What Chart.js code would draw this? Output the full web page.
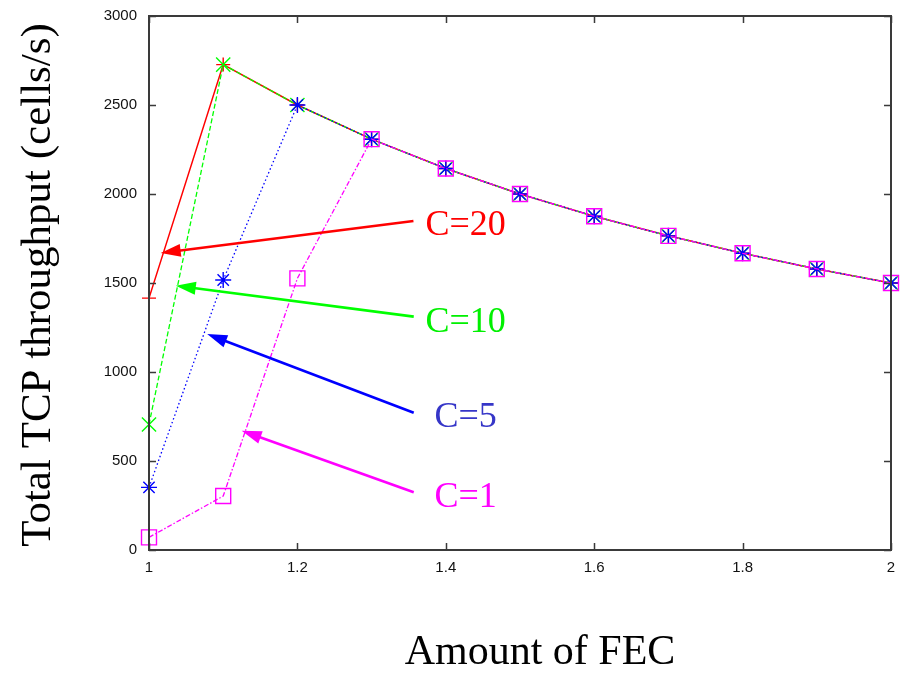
<!DOCTYPE html>
<html><head><meta charset="utf-8">
<script src="https://cdn.jsdelivr.net/npm/chart.js@4.4.1/dist/chart.umd.min.js"></script>
<style>html,body{margin:0;padding:0;background:#fff;} canvas{display:block;}</style>
</head><body>
<canvas id="c" width="905" height="674"></canvas>
<script>
// ---- data ----
const fecAmount = [1.0, 1.1, 1.2, 1.3, 1.4, 1.5, 1.6, 1.7, 1.8, 1.9, 2.0];
const throughputC20 = [1415, 2727, 2500, 2308, 2143, 2000, 1875, 1765, 1667, 1579, 1500];
const throughputC10 = [705, 2727, 2500, 2308, 2143, 2000, 1875, 1765, 1667, 1579, 1500];
const throughputC5  = [352, 1517, 2500, 2308, 2143, 2000, 1875, 1765, 1667, 1579, 1500];
const throughputC1  = [71, 303, 1526, 2308, 2143, 2000, 1875, 1765, 1667, 1579, 1500];
const seriesLabels = ['C=1', 'C=5', 'C=10', 'C=20'];
const xTickValues = [1, 1.2, 1.4, 1.6, 1.8, 2];
const xTickLabels = ['1', '1.2', '1.4', '1.6', '1.8', '2'];
const yTickValues = [0, 500, 1000, 1500, 2000, 2500, 3000];
const yTickLabels = ['0', '500', '1000', '1500', '2000', '2500', '3000'];
const xTitle = 'Amount of FEC';
const yTitle = 'Total TCP throughput (cells/s)';

// ---- annotation arrows (data coordinates) ----
const annotations = [
  {text: 'C=20', color: '#ff0000', textColor: '#ff0000', tip: [1.0158, 1669], tail: [1.3564, 1848], textAt: [1.4266, 1770]},
  {text: 'C=10', color: '#00ff00', textColor: '#00f000', tip: [1.0361, 1485], tail: [1.3568, 1311], textAt: [1.4266, 1226]},
  {text: 'C=5',  color: '#0000ff', textColor: '#3636c8', tip: [1.0784, 1213], tail: [1.3568, 771],  textAt: [1.4266, 693]},
  {text: 'C=1',  color: '#ff00ff', textColor: '#ff00ff', tip: [1.1249, 670],  tail: [1.3568, 324],  textAt: [1.4266, 242]}
];

function pts(ys) { return fecAmount.map((x, i) => ({x: x, y: ys[i]})); }

const frameColor = '#3a3a3a';

const framePlugin = {
  id: 'frameAndNotes',
  afterDraw(chart) {
    const ctx = chart.ctx, a = chart.chartArea;
    const xs = chart.scales.x, ys = chart.scales.y;
    ctx.save();
    ctx.strokeStyle = frameColor;
    ctx.lineWidth = 2;
    ctx.setLineDash([]);
    ctx.strokeRect(a.left, a.top, a.right - a.left, a.bottom - a.top);
    ctx.lineWidth = 1.5;
    ctx.beginPath();
    xs.ticks.forEach(t => {
      const px = Math.round(xs.getPixelForValue(t.value)) + 0.5;
      ctx.moveTo(px, a.bottom); ctx.lineTo(px, a.bottom - 7);
      ctx.moveTo(px, a.top); ctx.lineTo(px, a.top + 7);
    });
    ys.ticks.forEach(t => {
      const py = Math.round(ys.getPixelForValue(t.value)) + 0.5;
      ctx.moveTo(a.left, py); ctx.lineTo(a.left + 7, py);
      ctx.moveTo(a.right, py); ctx.lineTo(a.right - 7, py);
    });
    ctx.stroke();
    annotations.forEach(n => {
      const tx = xs.getPixelForValue(n.tip[0]), ty = ys.getPixelForValue(n.tip[1]);
      const sx = xs.getPixelForValue(n.tail[0]), sy = ys.getPixelForValue(n.tail[1]);
      const ang = Math.atan2(ty - sy, tx - sx);
      const hl = 20, hw = 6.5;
      const bx = tx - Math.cos(ang) * hl, by = ty - Math.sin(ang) * hl;
      ctx.strokeStyle = n.color; ctx.fillStyle = n.color;
      ctx.lineWidth = 2.6;
      ctx.beginPath(); ctx.moveTo(sx, sy); ctx.lineTo(bx + Math.cos(ang) * 2, by + Math.sin(ang) * 2); ctx.stroke();
      ctx.beginPath();
      ctx.moveTo(tx, ty);
      ctx.lineTo(bx + Math.sin(ang) * hw, by - Math.cos(ang) * hw);
      ctx.lineTo(bx - Math.sin(ang) * hw, by + Math.cos(ang) * hw);
      ctx.closePath(); ctx.fill();
      ctx.font = '36px "Liberation Serif", "Times New Roman", serif';
      ctx.fillStyle = n.textColor;
      ctx.textAlign = 'center'; ctx.textBaseline = 'alphabetic';
      ctx.fillText(n.text, xs.getPixelForValue(n.textAt[0]), ys.getPixelForValue(n.textAt[1]));
    });
    ctx.fillStyle = '#000';
    ctx.font = '42px "Liberation Serif", "Times New Roman", serif';
    ctx.textAlign = 'center'; ctx.textBaseline = 'alphabetic';
    ctx.fillText(xTitle, 540, 664);
    ctx.translate(50, 285);
    ctx.rotate(-Math.PI / 2);
    ctx.font = '43px "Liberation Serif", "Times New Roman", serif';
    ctx.fillText(yTitle, 0, 0);
    ctx.restore();
  }
};

new Chart(document.getElementById('c'), {
  type: 'line',
  data: {
    datasets: [
      {label: seriesLabels[0], data: pts(throughputC1), borderColor: '#ff00ff', borderWidth: 1.3, borderDash: [5, 2, 1.5, 2],
       pointStyle: 'rect', pointRadius: 10.6, pointBorderWidth: 1.4, pointBorderColor: '#ff00ff', pointBackgroundColor: 'rgba(0,0,0,0)', clip: false, tension: 0},
      {label: seriesLabels[1], data: pts(throughputC5), borderColor: '#0000ff', borderWidth: 1.3, borderDash: [1.5, 2.5],
       pointStyle: 'star', pointRadius: 8, pointBorderWidth: 1.4, pointBorderColor: '#0000ff', pointBackgroundColor: '#0000ff', clip: false, tension: 0},
      {label: seriesLabels[2], data: pts(throughputC10), borderColor: '#00ff00', borderWidth: 1.3, borderDash: [5, 2.5],
       pointStyle: 'crossRot', pointRadius: 10, pointBorderWidth: 1.4, pointBorderColor: '#00ff00', pointBackgroundColor: '#00ff00', clip: false, tension: 0},
      {label: seriesLabels[3], data: pts(throughputC20), borderColor: '#ff0000', borderWidth: 1.5,
       pointStyle: 'cross', pointRadius: 7, pointBorderWidth: 1.4, pointBorderColor: '#ff0000', pointBackgroundColor: '#ff0000', clip: false, tension: 0}
    ]
  },
  options: {
    responsive: false,
    animation: false,
    devicePixelRatio: 1,
    layout: {padding: {top: 16, right: 14, left: 0, bottom: 0}},
    plugins: {legend: {display: false}, tooltip: {enabled: false}},
    scales: {
      x: {
        type: 'linear', min: 1, max: 2,
        afterBuildTicks: s => { s.ticks = xTickValues.map(v => ({value: v})); },
        afterFit: s => { s.height = 124; s.paddingLeft = 0; s.paddingRight = 0; },
        ticks: {callback: (v, i) => xTickLabels[i], padding: 9, color: '#111',
                font: {family: '"Liberation Sans", Arial, sans-serif', size: 15}},
        grid: {display: false, drawTicks: false},
        border: {display: false}
      },
      y: {
        type: 'linear', min: 0, max: 3000,
        afterBuildTicks: s => { s.ticks = yTickValues.map(v => ({value: v})); },
        afterFit: s => { s.width = 149; s.paddingTop = 0; s.paddingBottom = 0; },
        ticks: {callback: (v, i) => yTickLabels[i], padding: 12, color: '#111',
                font: {family: '"Liberation Sans", Arial, sans-serif', size: 15}},
        grid: {display: false, drawTicks: false},
        border: {display: false}
      }
    }
  },
  plugins: [framePlugin]
});
</script>
</body></html>
